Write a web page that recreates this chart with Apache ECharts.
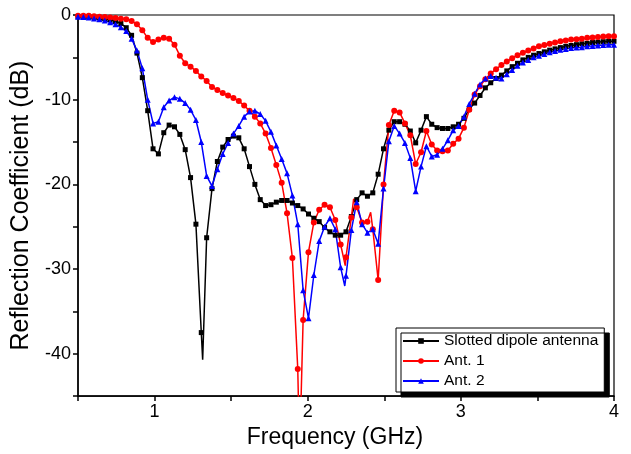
<!DOCTYPE html>
<html><head><meta charset="utf-8">
<script src="https://cdn.jsdelivr.net/npm/echarts@6/dist/echarts.min.js"></script>
<style>html,body{margin:0;padding:0;background:#fff}#c{width:631px;height:454px}</style>
</head><body><div id="c"></div>
<script>
const freq = [0.500,0.535,0.570,0.605,0.640,0.675,0.710,0.745,0.780,0.815,
0.850,0.885,0.920,0.955,0.990,1.025,1.060,1.095,1.130,1.165,
1.200,1.235,1.270,1.305,1.340,1.375,1.410,1.445,1.480,1.515,
1.550,1.585,1.620,1.655,1.690,1.725,1.760,1.795,1.830,1.865,
1.900,1.935,1.970,2.005,2.040,2.075,2.110,2.145,2.180,2.215,
2.250,2.285,2.320,2.355,2.390,2.425,2.460,2.495,2.530,2.565,
2.600,2.635,2.670,2.705,2.740,2.775,2.810,2.845,2.880,2.915,
2.950,2.985,3.020,3.055,3.090,3.125,3.160,3.195,3.230,3.265,
3.300,3.335,3.370,3.405,3.440,3.475,3.510,3.545,3.580,3.615,
3.650,3.685,3.720,3.755,3.790,3.825,3.860,3.895,3.930,3.965,4.000];

const black = [-0.2,-0.2,-0.25,-0.3,-0.35,-0.45,-0.55,-0.75,-1.0,-1.5,
-2.4,-4.5,-7.4,-11.3,-15.8,-16.4,-13.9,-13.0,-13.2,-14.1,
-15.9,-19.2,-24.7,-37.5,-26.3,-20.5,-17.3,-15.6,-14.7,-14.3,
-14.5,-15.8,-17.9,-20.0,-21.8,-22.5,-22.4,-22.1,-21.9,-21.9,
-22.2,-22.5,-22.9,-23.5,-24.0,-24.4,-25.1,-25.6,-26.0,-26.0,
-25.6,-23.8,-21.8,-21.0,-21.4,-21.0,-18.8,-15.8,-13.6,-12.6,
-12.6,-12.9,-13.7,-15.1,-13.6,-12.0,-12.9,-13.3,-13.4,-13.4,
-13.2,-12.9,-12.2,-11.1,-10.4,-9.5,-8.6,-8.0,-7.5,-7.1,
-6.6,-6.1,-5.7,-5.3,-5.0,-4.75,-4.55,-4.35,-4.15,-4.0,
-3.85,-3.7,-3.6,-3.5,-3.4,-3.35,-3.25,-3.2,-3.15,-3.1,-3.1];

const red = [-0.1,-0.1,-0.1,-0.15,-0.2,-0.25,-0.3,-0.35,-0.45,-0.5,
-0.7,-1.1,-1.8,-2.7,-3.2,-2.9,-2.7,-2.8,-3.5,-4.8,
-5.7,-6.1,-6.6,-7.25,-7.8,-8.5,-8.85,-9.2,-9.5,-9.8,
-10.15,-10.7,-11.3,-12.0,-12.8,-14.0,-15.7,-17.7,-19.8,-23.4,
-28.7,-41.8,-36.0,-28.0,-24.5,-23.0,-22.4,-22.7,-24.2,-27.1,
-28.6,-23.9,-22.7,-24.5,-24.4,-25.3,-31.3,-20.0,-13.0,-11.3,
-11.5,-12.8,-14.2,-17.6,-16.2,-13.7,-15.3,-16.0,-16.1,-16.0,
-15.2,-14.6,-13.3,-11.2,-9.4,-8.4,-7.6,-6.9,-6.4,-5.9,
-5.5,-5.1,-4.75,-4.45,-4.2,-3.95,-3.7,-3.55,-3.4,-3.25,
-3.1,-3.0,-2.9,-2.85,-2.8,-2.7,-2.65,-2.6,-2.55,-2.5,-2.5];

const blue = [-0.2,-0.25,-0.3,-0.4,-0.5,-0.65,-0.85,-1.1,-1.45,-1.9,
-2.8,-4.2,-6.3,-10.0,-12.8,-12.6,-10.9,-10.1,-9.7,-9.9,
-10.4,-11.2,-12.4,-15.0,-19.0,-20.2,-18.2,-16.4,-15.1,-14.0,
-13.1,-12.0,-11.4,-11.3,-11.7,-12.5,-13.8,-15.4,-17.0,-18.7,
-21.3,-24.7,-32.5,-35.8,-30.7,-26.7,-25.0,-24.0,-25.3,-29.8,
-30.8,-25.4,-22.1,-24.7,-25.7,-25.3,-27.0,-20.5,-14.9,-13.1,
-14.0,-15.1,-16.9,-20.8,-17.9,-15.5,-16.7,-16.5,-15.8,-14.8,
-13.6,-13.1,-12.0,-10.5,-9.3,-8.2,-7.5,-7.2,-7.4,-7.5,
-7.0,-6.5,-6.0,-5.6,-5.3,-5.0,-4.8,-4.6,-4.4,-4.25,
-4.1,-4.0,-3.9,-3.85,-3.8,-3.7,-3.65,-3.6,-3.55,-3.5,-3.5];

// unmarked in-between points at sharp resonances
const blackExtra = [[1.314,-40.7]];
const redExtra = [[1.947,-52],[2.245,-29.6],[2.300,-21.7],[2.411,-23.3]];
const blueExtra = [[2.242,-32.0]];

const seriesNames = ['Slotted dipole antenna','Ant. 1','Ant. 2'];
const xTickLabels = [1,2,3,4];
const yTickLabels = [0,-10,-20,-30,-40];

function build(vals, extra){
  const pts = freq.map((f,i)=>({value:[f, vals[i]]}));
  extra.forEach(p=>pts.push({value:p, symbol:'none'}));
  pts.sort((a,b)=>a.value[0]-b.value[0]);
  return pts;
}

const FF = 'Liberation Sans, Arial, sans-serif';
const chart = echarts.init(document.getElementById('c'), null, {renderer:'canvas'});
chart.setOption({
  animation:false,
  backgroundColor:'#fff',
  grid:{left:78, right:17, top:15, bottom:56, show:true, borderColor:'#000', borderWidth:1.2, backgroundColor:'transparent'},
  xAxis:{type:'value', min:0.5, max:4, interval:0.5,
    axisLine:{onZero:false, lineStyle:{color:'#000', width:1.5}},
    axisTick:{length:5, lineStyle:{color:'#000', width:1.5}},
    axisLabel:{formatter:v=> xTickLabels.includes(v) ? String(v) : '', fontSize:18, color:'#000', fontFamily:FF, margin:7},
    splitLine:{show:false},
    name:'Frequency (GHz)', nameLocation:'middle', nameGap:29,
    nameTextStyle:{fontSize:23, color:'#000', fontFamily:FF, padding:[0,22,0,0]}},
  yAxis:{type:'value', min:-45, max:0, interval:5,
    axisLine:{onZero:false, lineStyle:{color:'#000', width:1.5}},
    axisTick:{length:5, lineStyle:{color:'#000', width:1.5}},
    axisLabel:{formatter:v=> yTickLabels.includes(v) ? String(v) : '', fontSize:18, color:'#000', fontFamily:FF, margin:7},
    splitLine:{show:false},
    name:'Reflection Coefficient (dB)', nameLocation:'middle', nameGap:44,
    nameTextStyle:{fontSize:25, color:'#000', fontFamily:FF}},
  legend:{orient:'vertical', left:396, top:328, padding:[5,6,3,6],
    backgroundColor:'#fff', borderColor:'#000', borderWidth:1,
    shadowColor:'#000', shadowOffsetX:5, shadowOffsetY:5, shadowBlur:0,
    itemWidth:36, itemHeight:7, itemGap:4,
    textStyle:{fontSize:15.5, lineHeight:14, color:'#000', fontFamily:FF},
    data:seriesNames},
  series:[
    {name:seriesNames[0], type:'line', data:build(black, blackExtra), symbol:'rect', symbolSize:5,
     lineStyle:{color:'#000', width:1.5}, itemStyle:{color:'#000'}, clip:true},
    {name:seriesNames[1], type:'line', data:build(red, redExtra), symbol:'circle', symbolSize:6,
     lineStyle:{color:'#ff0000', width:1.5}, itemStyle:{color:'#ff0000'}, clip:true},
    {name:seriesNames[2], type:'line', data:build(blue, blueExtra), symbol:'triangle', symbolSize:6,
     lineStyle:{color:'#0000ff', width:1.5}, itemStyle:{color:'#0000ff'}, clip:true}
  ]
});
</script></body></html>
